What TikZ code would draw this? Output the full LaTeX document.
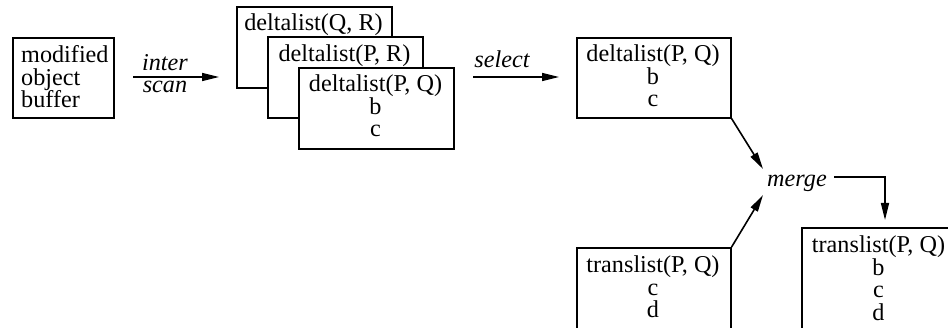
\documentclass[tikz,border=0pt]{standalone}
\usepackage{fontspec}
\setmainfont{Liberation Serif}
\usetikzlibrary{arrows.meta}
\begin{document}
\begin{tikzpicture}[x=1pt,y=-1pt,
  box/.style={draw,line width=1.6pt,fill=white,inner sep=0pt,anchor=north west,minimum height=81pt},
  txt/.style={font=\fontsize{24.2}{22.5}\selectfont,align=center,inner sep=0pt,anchor=base},
  lab/.style={font=\fontsize{24.2}{22.5}\selectfont\itshape,inner sep=0pt,anchor=base},
  arr/.style={line width=1.6pt,-{Triangle[length=17pt,width=8pt]}}]
\useasboundingbox (0,0) rectangle (948,328);
\clip (0,0) rectangle (948,328);

% modified object buffer (base anchor = last line's baseline)
\node[box,minimum width=101pt,minimum height=80pt] (mob) at (12,37) {};
\node[txt,align=left,anchor=base west] (mobt) at (21,108) {modified\\object\\buffer};

% stacked delta lists
\node[box,minimum width=155pt] (qr) at (236,6) {};
\node[txt] (qrt) at (313.5,31) {deltalist(Q, R)};
\node[box,minimum width=155pt] (pr) at (267,36) {};
\node[txt] (prt) at (344.5,62) {deltalist(P, R)};
\node[box,minimum width=155pt] (pq) at (298,67) {};
\node[txt] (pqt) at (375.5,137) {deltalist(P, Q)\\b\\c};

% inter scan arrow
\coordinate (a1s) at (133,77);
\coordinate (a1e) at (219,77);
\draw[arr] (a1s) -- (a1e);
\node[lab] (inter) at (165,71) {inter};
\node[lab] (scan) at (165,93) {scan};

% select arrow
\coordinate (a2s) at (473,77);
\coordinate (a2e) at (559,77);
\draw[arr] (a2s) -- (a2e);
\node[lab] (select) at (502,68) {select};

% selected delta list
\node[box,minimum width=154pt,minimum height=80pt] (dr) at (576,37) {};
\node[txt] (drt) at (653,107) {deltalist(P, Q)\\b\\c};

% translists
\node[box,minimum width=154pt,minimum height=84pt] (tl) at (576,247) {};
\node[txt] (tlt) at (653,318) {translist(P, Q)\\c\\d};
\node[box,minimum width=155pt,minimum height=110pt] (tr) at (801,227) {};
\node[txt] (trt) at (878.5,320.5) {translist(P, Q)\\b\\c\\d};

% merge
\node[lab] (merge) at (797,187) {merge};
\coordinate (m1) at (763,169);
\coordinate (m2) at (763,195);
\coordinate (m3) at (834,177);
\coordinate (m4) at (885,220);
\draw[arr] (dr.south east) -- (m1);
\draw[arr] (tl.north east) -- (m2);
\draw[arr] (m3) -| (m4);
\end{tikzpicture}
\end{document}
